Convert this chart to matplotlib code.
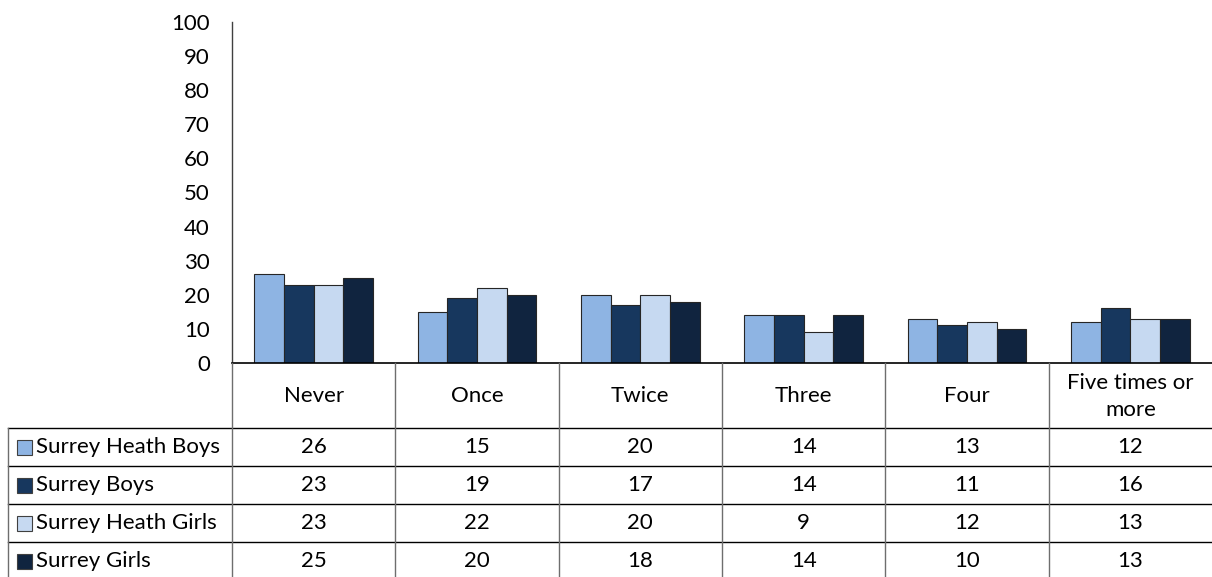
import numpy as np
import matplotlib.pyplot as plt
from matplotlib.patches import Rectangle
from matplotlib.lines import Line2D

# Дані графіка
categories = ['Never', 'Once', 'Twice', 'Three', 'Four', 'Five times or\nmore']
series_names = ['Surrey Heath Boys', 'Surrey Boys', 'Surrey Heath Girls', 'Surrey Girls']
heath_boys = [26, 15, 20, 14, 13, 12]
surrey_boys = [23, 19, 17, 14, 11, 16]
heath_girls = [23, 22, 20, 9, 12, 13]
surrey_girls = [25, 20, 18, 14, 10, 13]
colors = ['#8EB4E3', '#17375E', '#C6D9F1', '#10243F']

plt.rcParams['font.family'] = ['Lato', 'DejaVu Sans']

W, H = 1212, 577
fig = plt.figure(figsize=(W / 100, H / 100), dpi=100)


# Перетворення пікселів у координати фігури
def fx(px):
    return px / W


def fy(py):
    return 1 - py / H


x0, x1 = 232, 1212
y_top, y_zero = 22, 363
ax = fig.add_axes([fx(x0), fy(y_zero), fx(x1) - fx(x0), fy(y_top) - fy(y_zero)])

all_series = [heath_boys, surrey_boys, heath_girls, surrey_girls]
n = len(categories)
bar_w = 1 / 5.5
x = np.arange(n)
for i, vals in enumerate(all_series):
    offs = (i - 1.5) * bar_w
    ax.bar(x + offs, vals, width=bar_w, color=colors[i], edgecolor='#262626', linewidth=0.8)

fs = 16
ax.set_xlim(-0.5, n - 0.5)
ax.set_ylim(0, 100)
ax.set_yticks(range(0, 101, 10))
ax.tick_params(axis='y', length=0, labelsize=fs, pad=16)
ax.set_xticks([])
for s in ['top', 'right', 'bottom']:
    ax.spines[s].set_visible(False)
ax.spines['left'].set_color('#404040')
ax.spines['left'].set_linewidth(1)

# Таблиця даних під графіком
col_w = (x1 - x0) / n
row_lines = [428, 466, 504, 542]

# горизонтальні лінії
fig.add_artist(Line2D([fx(x0), fx(x1)], [fy(y_zero), fy(y_zero)], color='black', lw=1.2))
for ry in row_lines:
    fig.add_artist(Line2D([fx(8), fx(x1)], [fy(ry), fy(ry)], color='black', lw=1))

# вертикальні лінії
for k in range(n):
    cx = x0 + k * col_w
    fig.add_artist(Line2D([fx(cx), fx(cx)], [fy(y_zero), fy(H)], color='#6e6e6e', lw=1))
fig.add_artist(Line2D([fx(8), fx(8)], [fy(428), fy(H)], color='#6e6e6e', lw=1))

# назви категорій
for k, cat in enumerate(categories):
    cx = x0 + (k + 0.5) * col_w
    fig.text(fx(cx), fy((y_zero + 428) / 2 + 1), cat, ha='center', va='center',
             fontsize=fs, linespacing=1.4)

# рядки з даними
row_bounds = [428, 466, 504, 542, 580]
for i, name in enumerate(series_names):
    cy = (row_bounds[i] + row_bounds[i + 1]) / 2
    fig.add_artist(Rectangle((fx(17), fy(cy + 8)), fx(15), (15 / H),
                             facecolor=colors[i], edgecolor='#404040', lw=0.8))
    fig.text(fx(36), fy(cy), name, ha='left', va='center', fontsize=fs)
    for k, v in enumerate(all_series[i]):
        cx = x0 + (k + 0.5) * col_w
        fig.text(fx(cx), fy(cy), str(v), ha='center', va='center', fontsize=fs)

fig.savefig('out.png', dpi=100)
